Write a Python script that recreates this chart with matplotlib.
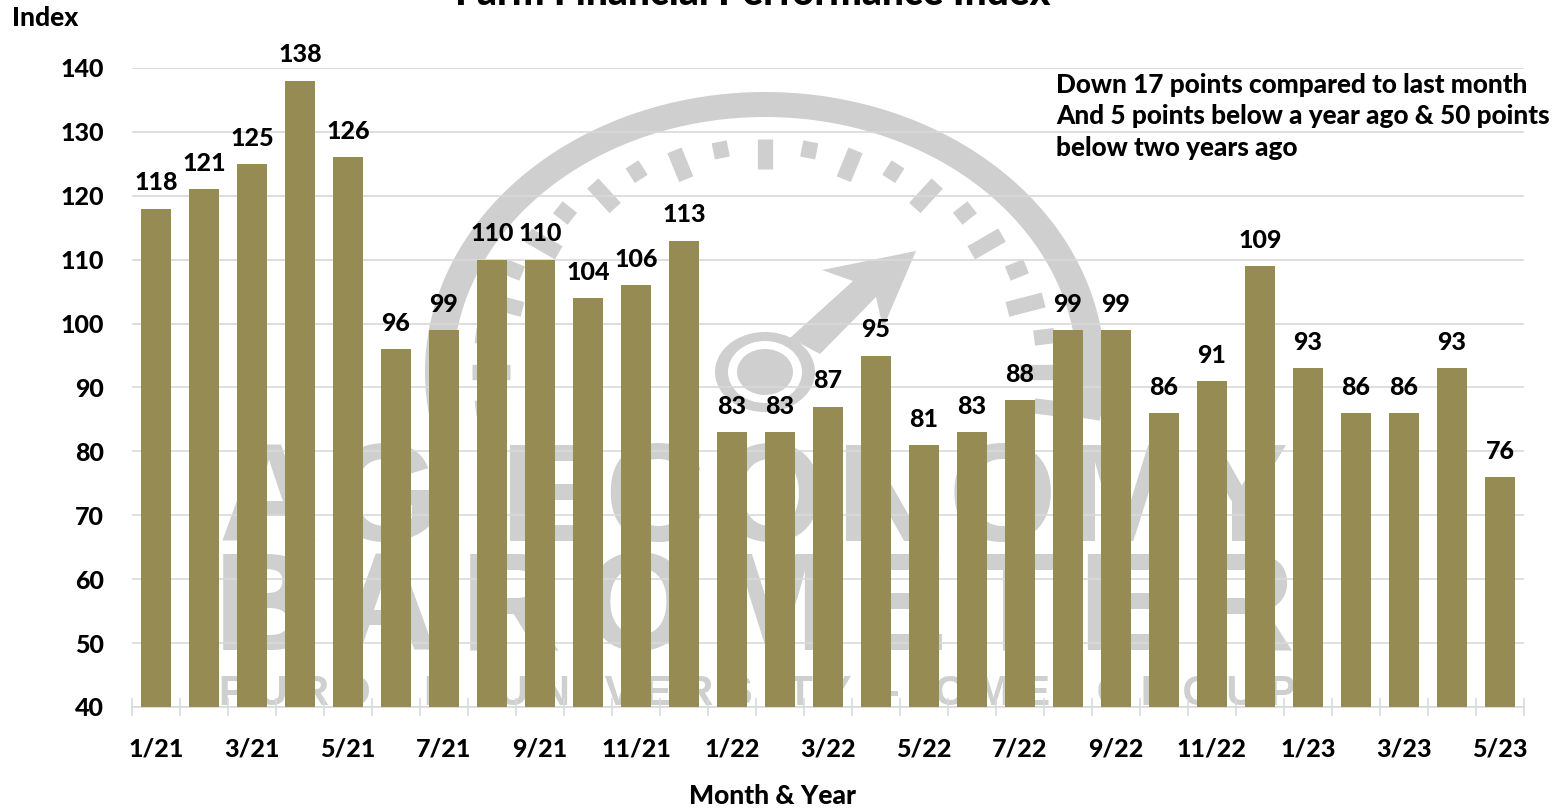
import matplotlib
matplotlib.use("Agg")
import matplotlib.pyplot as plt
import numpy as np
from matplotlib.patches import Ellipse, Polygon

W, H = 1568, 810
FONT = "Lato"
WEIGHT = 900
GRAY = "#CFCFCF"
GRID = "#D9D9D9"
BAR = "#968B53"

months = ["1/21", "2/21", "3/21", "4/21", "5/21", "6/21", "7/21", "8/21", "9/21", "10/21",
          "11/21", "12/21", "1/22", "2/22", "3/22", "4/22", "5/22", "6/22", "7/22", "8/22",
          "9/22", "10/22", "11/22", "12/22", "1/23", "2/23", "3/23", "4/23", "5/23"]
index_values = [118, 121, 125, 138, 126, 96, 99, 110, 110, 104,
                106, 113, 83, 83, 87, 95, 81, 83, 88, 99,
                99, 86, 91, 109, 93, 86, 86, 93, 76]
y_ticks = [40, 50, 60, 70, 80, 90, 100, 110, 120, 130, 140]
note_lines = ["Down 17 points compared to last month",
              "And 5 points below a year ago & 50 points",
              "below two years ago"]

plt.rcParams["font.family"] = [FONT, "DejaVu Sans"]
plt.rcParams["font.weight"] = WEIGHT

fig = plt.figure(figsize=(W / 100, H / 100), dpi=100)

# Watermark goes on its own axes in pixel coords, behind the chart
bg = fig.add_axes([0, 0, 1, 1], zorder=0)
bg.set_xlim(0, W)
bg.set_ylim(H, 0)
bg.axis("off")

cx, cy = 765, 372
t = np.radians(np.linspace(-10, 190, 200))
outer = np.c_[cx + 340 * np.cos(t), cy - 280 * np.sin(t)]
inner = np.c_[cx + 312 * np.cos(t), cy - 255 * np.sin(t)]
bg.add_patch(Polygon(np.vstack([outer, inner[::-1]]), color=GRAY, lw=0))

# gauge dashes, every second one is long
for a in range(-9, 190, 9):
    r = np.radians(a)
    f1 = 0.87 if a % 18 == 0 else 0.93
    bg.plot([cx + 293 * np.cos(r), cx + 293 * f1 * np.cos(r)],
            [cy - 233 * np.sin(r), cy - 233 * f1 * np.sin(r)],
            color=GRAY, lw=11, solid_capstyle="butt")

# needle hub and arrow
bg.add_patch(Ellipse((cx, cy), 100, 80, color=GRAY, lw=0))
bg.add_patch(Ellipse((cx, cy), 74, 62, color="white", lw=0))
bg.add_patch(Ellipse((cx, cy), 56, 46, color=GRAY, lw=0))
bg.add_patch(Polygon([(916, 251), (822, 270), (853, 281), (790, 338), (820, 354),
                      (876, 297), (883, 328)], color=GRAY, lw=0))

hair = "\u200a"
bg.text(754, 541, hair.join("AG ECONOMY"), fontsize=100, family="Liberation Sans", weight="bold",
        color=GRAY, ha="center", va="baseline")
bg.text(754, 650, (hair * 2).join("BAROMETER"), fontsize=100, family="Liberation Sans", weight="bold",
        color=GRAY, ha="center", va="baseline")
bg.text(757, 705, "P U R D U E    U N I V E R S I T Y   -   C M E    G R O U P", fontsize=30,
        family="Liberation Sans", weight="bold", color=GRAY, ha="center", va="baseline")

# Main chart
ax = fig.add_axes([132 / W, 1 - 707 / H, (1524 - 132) / W, (707 - 68) / H], zorder=1)
ax.patch.set_alpha(0)
x = np.arange(len(months))
ax.bar(x, index_values, width=0.625, color=BAR, zorder=3)
ax.set_xlim(-0.5, len(months) - 0.5)
ax.set_ylim(40, 140)

for i, v in enumerate(index_values):
    ax.annotate(str(v), (i, v), xytext=(0, 18.6), textcoords="offset points",
                ha="center", va="center", fontsize=18, fontweight=WEIGHT, color="black", zorder=4)

ax.set_yticks(y_ticks)
ax.tick_params(axis="y", length=0, pad=20, labelsize=18)
ax.yaxis.grid(True, color=GRID, lw=1.2, zorder=1)
ax.set_axisbelow(True)

ax.set_xticks(x[::2])
ax.set_xticklabels(months[::2])
ax.tick_params(axis="x", which="major", length=0, pad=22, labelsize=18)
ax.set_xticks(np.arange(len(months) + 1) - 0.5, minor=True)
ax.tick_params(axis="x", which="minor", direction="inout", length=13, width=1.2, color=GRID)

for side in ["top", "right", "left"]:
    ax.spines[side].set_visible(False)
ax.spines["bottom"].set_color(GRID)
ax.spines["bottom"].set_linewidth(1.2)

# Title is clipped by the top edge in the original too
fig.text(753 / W, 1 - 5 / H, "Farm Financial Performance Index", fontsize=28, fontweight=WEIGHT,
         ha="center", va="baseline")
fig.text(12 / W, 1 - 18 / H, "Index", fontsize=19, fontweight=WEIGHT, ha="left", va="center")
fig.text(772 / W, 1 - 796 / H, "Month & Year", fontsize=19, fontweight=WEIGHT, ha="center", va="center")

for line, py in zip(note_lines, [85, 116, 148]):
    fig.text(1056 / W, 1 - py / H, line, fontsize=18.8, fontweight=WEIGHT, ha="left", va="center")

fig.savefig("out.png", dpi=100)
